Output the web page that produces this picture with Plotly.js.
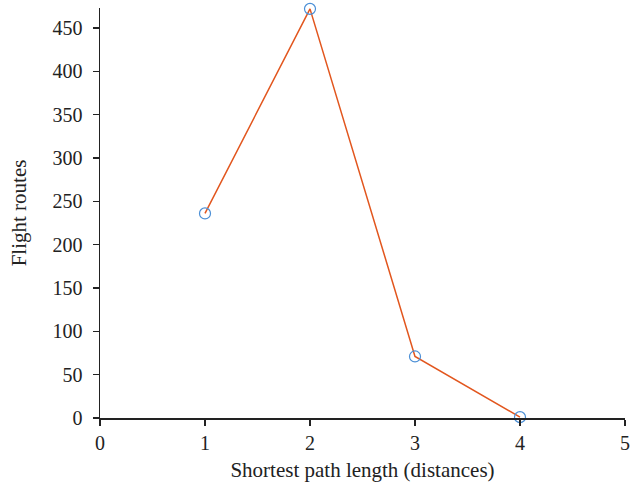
<!DOCTYPE html>
<html>
<head>
<meta charset="utf-8">
<script src="https://cdn.plot.ly/plotly-3.0.1.min.js"></script>
<style>html,body{margin:0;padding:0;background:#fff;}#chart{width:642px;height:485px;}</style>
</head>
<body>
<div id="chart"></div>
<script>
const pathLengths = [1, 2, 3, 4];
const flightRoutes = [236, 472, 71, 1];
const xTicks = [0, 1, 2, 3, 4, 5];
const yTicks = [0, 50, 100, 150, 200, 250, 300, 350, 400, 450];

const font = 'Liberation Serif, Times New Roman, serif';
const data = [
  {
    x: pathLengths, y: flightRoutes, type: 'scatter', mode: 'lines',
    line: {color: '#e2561e', width: 1.5}, showlegend: false, hoverinfo: 'skip'
  },
  {
    x: pathLengths, y: flightRoutes, type: 'scatter', mode: 'markers',
    marker: {symbol: 'circle-open', size: 11, color: '#4b8fd6', line: {width: 1.2, color: '#4b8fd6'}},
    showlegend: false, cliponaxis: false
  }
];
const layout = {
  width: 642, height: 485,
  margin: {l: 100, r: 17, t: 8, b: 67},
  paper_bgcolor: '#fff', plot_bgcolor: '#fff',
  font: {family: font, size: 20, color: '#222'},
  xaxis: {
    range: [0, 5], tickvals: xTicks, ticktext: xTicks.map(String),
    showgrid: false, zeroline: false, showline: true, linecolor: '#222', linewidth: 1.5,
    ticks: 'outside', ticklen: 6, tickwidth: 1.5, tickcolor: '#222',
    tickfont: {family: font, size: 20, color: '#222'},
    title: {text: 'Shortest path length (distances)', font: {family: font, size: 21, color: '#222'}, standoff: 10}
  },
  yaxis: {
    range: [0, 473], tickvals: yTicks, ticktext: yTicks.map(String),
    showgrid: false, zeroline: false, showline: true, linecolor: '#222', linewidth: 1.5,
    ticks: 'outside', ticklen: 6, tickwidth: 1.5, tickcolor: '#222',
    ticklabelstandoff: 6,
    tickfont: {family: font, size: 20, color: '#222'},
    title: {text: 'Flight routes', font: {family: font, size: 21, color: '#222'}, standoff: 20}
  }
};
Plotly.newPlot('chart', data, layout, {displayModeBar: false, staticPlot: true});
</script>
</body>
</html>
